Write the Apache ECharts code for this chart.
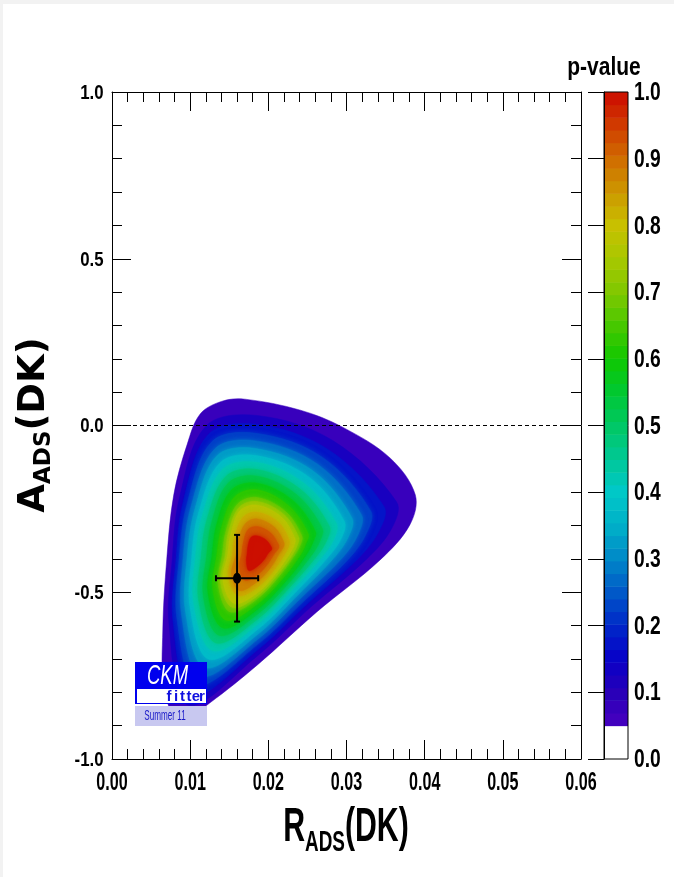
<!DOCTYPE html>
<html><head><meta charset="utf-8">
<script src="https://cdn.jsdelivr.net/npm/echarts/dist/echarts.min.js"></script>
<style>html,body{margin:0;padding:0;background:#fff;} #c{width:674px;height:877px;}</style>
</head><body><div id="c"></div>
<script>
// ---------------- data ----------------
const xRange = [0, 0.06];
const yRange = [-1, 1];
const xTicks = [0, 0.01, 0.02, 0.03, 0.04, 0.05, 0.06];
const yTicks = [-1, -0.5, 0, 0.5, 1];
const colorbarTicks = [0, 0.1, 0.2, 0.3, 0.4, 0.5, 0.6, 0.7, 0.8, 0.9, 1.0];

// p-value contour levels and contour lines, points as [R_ADS, A_ADS]
const pLevels = [0.05, 0.1, 0.15, 0.2, 0.25, 0.3, 0.35, 0.4, 0.45, 0.5, 0.55, 0.6, 0.65, 0.7, 0.75, 0.8, 0.85, 0.9, 0.95];
const contour005 = [[0.0170,0.079],[0.0241,0.046],[0.0295,-0.005],[0.0356,-0.098],[0.0388,-0.208],[0.0381,-0.298],[0.0343,-0.403],[0.0262,-0.559],[0.0186,-0.718],[0.0125,-0.832],[0.0087,-0.889],[0.0067,-0.793],[0.0065,-0.613],[0.0070,-0.403],[0.0079,-0.208],[0.0096,-0.058],[0.0113,0.035],[0.0141,0.073]];
const contour010 = [[0.0186,0.030],[0.0283,-0.046],[0.0364,-0.229],[0.0358,-0.308],[0.0326,-0.400],[0.0255,-0.543],[0.0186,-0.691],[0.0097,-0.838],[0.0073,-0.597],[0.0077,-0.402],[0.0086,-0.220],[0.0120,-0.002]];
const contour015 = [[0.0186,0.003],[0.0276,-0.071],[0.0348,-0.243],[0.0342,-0.315],[0.0315,-0.399],[0.0251,-0.533],[0.0186,-0.674],[0.0103,-0.808],[0.0078,-0.588],[0.0082,-0.401],[0.0091,-0.228],[0.0124,-0.025]];
const contour020 = [[0.0186,-0.024],[0.0269,-0.095],[0.0331,-0.256],[0.0326,-0.321],[0.0304,-0.397],[0.0247,-0.523],[0.0186,-0.657],[0.0109,-0.777],[0.0083,-0.578],[0.0086,-0.400],[0.0096,-0.236],[0.0128,-0.048]];
const contour025 = [[0.0186,-0.047],[0.0263,-0.116],[0.0319,-0.267],[0.0315,-0.326],[0.0295,-0.396],[0.0243,-0.514],[0.0186,-0.642],[0.0114,-0.752],[0.0089,-0.568],[0.0091,-0.399],[0.0101,-0.244],[0.0132,-0.069]];
const contour030 = [[0.0186,-0.070],[0.0257,-0.136],[0.0307,-0.277],[0.0303,-0.331],[0.0285,-0.394],[0.0239,-0.505],[0.0186,-0.627],[0.0119,-0.726],[0.0094,-0.557],[0.0096,-0.398],[0.0106,-0.251],[0.0135,-0.089]];
const contour035 = [[0.0186,-0.091],[0.0252,-0.155],[0.0297,-0.286],[0.0294,-0.335],[0.0277,-0.393],[0.0236,-0.497],[0.0186,-0.612],[0.0124,-0.701],[0.0100,-0.547],[0.0102,-0.397],[0.0111,-0.260],[0.0139,-0.110]];
const contour040 = [[0.0186,-0.111],[0.0246,-0.174],[0.0287,-0.294],[0.0284,-0.339],[0.0269,-0.392],[0.0232,-0.489],[0.0186,-0.596],[0.0129,-0.675],[0.0105,-0.536],[0.0107,-0.396],[0.0116,-0.268],[0.0142,-0.131]];
const contour045 = [[0.0186,-0.132],[0.0241,-0.191],[0.0278,-0.302],[0.0275,-0.343],[0.0262,-0.391],[0.0229,-0.481],[0.0186,-0.581],[0.0133,-0.652],[0.0111,-0.525],[0.0114,-0.395],[0.0122,-0.278],[0.0146,-0.152]];
const contour050 = [[0.0186,-0.152],[0.0236,-0.207],[0.0269,-0.309],[0.0266,-0.346],[0.0255,-0.390],[0.0226,-0.473],[0.0186,-0.566],[0.0137,-0.629],[0.0117,-0.513],[0.0121,-0.393],[0.0128,-0.287],[0.0149,-0.172]];
const contour055 = [[0.0186,-0.173],[0.0231,-0.224],[0.0260,-0.317],[0.0257,-0.350],[0.0248,-0.389],[0.0223,-0.465],[0.0186,-0.551],[0.0142,-0.607],[0.0123,-0.502],[0.0128,-0.392],[0.0134,-0.297],[0.0153,-0.193]];
const contour060 = [[0.0186,-0.193],[0.0226,-0.241],[0.0251,-0.325],[0.0248,-0.354],[0.0241,-0.388],[0.0219,-0.457],[0.0186,-0.535],[0.0146,-0.584],[0.0129,-0.490],[0.0134,-0.390],[0.0140,-0.306],[0.0157,-0.214]];
const contour065 = [[0.0186,-0.216],[0.0222,-0.258],[0.0243,-0.332],[0.0241,-0.357],[0.0234,-0.387],[0.0215,-0.448],[0.0186,-0.519],[0.0151,-0.559],[0.0136,-0.477],[0.0141,-0.389],[0.0146,-0.316],[0.0161,-0.235]];
const contour070 = [[0.0186,-0.228],[0.0220,-0.267],[0.0239,-0.336],[0.0237,-0.359],[0.0231,-0.387],[0.0213,-0.444],[0.0186,-0.511],[0.0154,-0.546],[0.0139,-0.471],[0.0145,-0.389],[0.0149,-0.321],[0.0163,-0.245]];
const contour075 = [[0.0186,-0.239],[0.0217,-0.275],[0.0234,-0.339],[0.0233,-0.360],[0.0227,-0.386],[0.0211,-0.439],[0.0186,-0.502],[0.0156,-0.533],[0.0142,-0.464],[0.0148,-0.388],[0.0152,-0.325],[0.0164,-0.255]];
const contour080 = [[0.0186,-0.260],[0.0213,-0.290],[0.0227,-0.345],[0.0226,-0.363],[0.0221,-0.385],[0.0208,-0.431],[0.0186,-0.485],[0.0161,-0.510],[0.0149,-0.451],[0.0154,-0.387],[0.0157,-0.334],[0.0168,-0.274]];
const contour085 = [[0.0186,-0.280],[0.0208,-0.305],[0.0220,-0.351],[0.0219,-0.366],[0.0214,-0.384],[0.0204,-0.423],[0.0186,-0.468],[0.0163,-0.495],[0.0153,-0.445],[0.0159,-0.385],[0.0162,-0.342],[0.0171,-0.293]];
const contour090 = [[0.0186,-0.303],[0.0203,-0.322],[0.0213,-0.357],[0.0213,-0.369],[0.0208,-0.383],[0.0200,-0.413],[0.0186,-0.448],[0.0170,-0.464],[0.0163,-0.424],[0.0166,-0.384],[0.0168,-0.351],[0.0174,-0.312]];
const contour095 = [[0.0186,-0.331],[0.0197,-0.343],[0.0204,-0.365],[0.0204,-0.373],[0.0200,-0.382],[0.0195,-0.401],[0.0186,-0.422],[0.0175,-0.435],[0.0172,-0.407],[0.0173,-0.383],[0.0174,-0.361],[0.0178,-0.335]];
const contours = [contour005, contour010, contour015, contour020, contour025, contour030, contour035, contour040, contour045, contour050,
                  contour055, contour060, contour065, contour070, contour075, contour080, contour085, contour090, contour095];

// best fit point with its errors
const bestFit = [0.0160, -0.458];
const bestFitXErr = [0.0133, 0.0187];
const bestFitYErr = [-0.588, -0.328];

// reference line A_ADS = 0
const zeroLine = [[0, 0], [0.06, 0]];

// colour palette (p-value -> colour)
const paletteStops = [[0.05,'#4800c0'],[0.10,'#2800b8'],[0.15,'#0800c8'],[0.20,'#0028c8'],[0.25,'#0058c8'],[0.30,'#0088c8'],[0.35,'#00b0c8'],[0.40,'#00c8c8'],[0.45,'#00c896'],[0.50,'#00c864'],[0.55,'#00c832'],[0.60,'#10c800'],[0.65,'#48c800'],[0.70,'#80c800'],[0.75,'#a8c800'],[0.80,'#c8c000'],[0.85,'#cc9800'],[0.90,'#d06c00'],[0.95,'#d03c00'],[1.00,'#cc0a00']];
const colorbarMin = 0.05, colorbarBins = 50;

// ---------------- helpers ----------------
function hex2rgb(h){return [parseInt(h.substr(1,2),16),parseInt(h.substr(3,2),16),parseInt(h.substr(5,2),16)];}
function palette(v){
  if (v <= paletteStops[0][0]) return paletteStops[0][1];
  for (let i=1;i<paletteStops.length;i++){
    if (v <= paletteStops[i][0]){
      const a=paletteStops[i-1], b=paletteStops[i];
      const t=(v-a[0])/(b[0]-a[0]);
      const ca=hex2rgb(a[1]), cb=hex2rgb(b[1]);
      return 'rgb('+ca.map((c,k)=>Math.round(c+(cb[k]-c)*t)).join(',')+')';
    }
  }
  return paletteStops[paletteStops.length-1][1];
}
const bandColors = pLevels.map((l,i)=>palette(i<pLevels.length-1 ? (l+pLevels[i+1])/2 : 0.995));
const cbData = [];
for (let i=0;i<colorbarBins;i++) cbData.push([colorbarMin+(1-colorbarMin)*i/colorbarBins, colorbarMin+(1-colorbarMin)*(i+1)/colorbarBins]);

const LF = "'Liberation Sans',Arial,sans-serif";

function mainAxisX(pos){
  return {type:'value', gridIndex:0, position:pos, min:xRange[0], max:xRange[1], interval:0.01,
    axisLine:{show:true,onZero:false,lineStyle:{color:'#000',width:1}},
    axisTick:{show:true,inside:true,length:19,lineStyle:{color:'#000',width:1}},
    minorTick:{show:true,splitNumber:5,length:10,lineStyle:{color:'#000',width:1}},
    splitLine:{show:false}, axisLabel:{show:false}};
}
function mainAxisY(pos){
  return {type:'value', gridIndex:0, position:pos, min:yRange[0], max:yRange[1], interval:0.5,
    axisLine:{show:true,onZero:false,lineStyle:{color:'#000',width:1}},
    axisTick:{show:true,inside:true,length:19,lineStyle:{color:'#000',width:1}},
    minorTick:{show:true,splitNumber:5,length:10,lineStyle:{color:'#000',width:1}},
    splitLine:{show:false}, axisLabel:{show:false}};
}

const chart = echarts.init(document.getElementById('c'), null, {renderer:'canvas'});
const option = {
  animation:false,
  backgroundColor:'#fff',
  grid:[
    {left:112, top:92, width:469, height:667, show:false},
    {left:604, top:92, width:24, height:667, show:true, borderColor:'#000', borderWidth:1, backgroundColor:'transparent', z:10}
  ],
  xAxis:[ mainAxisX('bottom'), mainAxisX('top'),
    {type:'value', gridIndex:1, min:0, max:1, show:false} ],
  yAxis:[ mainAxisY('left'), mainAxisY('right'),
    {type:'value', gridIndex:1, position:'right', min:0, max:1, interval:0.1, z:10,
     axisLine:{show:true,lineStyle:{color:'#000',width:1}},
     axisTick:{show:true,inside:true,length:16,lineStyle:{color:'#000',width:1}},
     splitLine:{show:false}, axisLabel:{show:false}} ],
  series:[
    {type:'custom', xAxisIndex:0, yAxisIndex:0, z:1,
     data: contours.map((c,i)=>[i]),
     renderItem:(params, api)=>{
       const i = params.dataIndex;
       const blur = i >= 3 ? 5 : 0;
       return {type:'polygon', shape:{points: contours[i].map(p=>api.coord(p)), smooth:0.35},
               style:{fill: bandColors[i], stroke: bandColors[i], lineWidth:0.5, shadowBlur:blur, shadowColor:bandColors[i]}};
     }},
    {type:'line', xAxisIndex:0, yAxisIndex:0, z:3, data:zeroLine, symbol:'none', silent:true,
     lineStyle:{color:'#000', width:1, type:[4,3]}},
    {type:'custom', xAxisIndex:0, yAxisIndex:0, z:4,
     data:[[bestFit[0], bestFit[1], bestFitXErr[0], bestFitXErr[1], bestFitYErr[0], bestFitYErr[1]]],
     renderItem:(params, api)=>{
       const c = api.coord([api.value(0), api.value(1)]);
       const xl = api.coord([api.value(2), api.value(1)]);
       const xh = api.coord([api.value(3), api.value(1)]);
       const yl = api.coord([api.value(0), api.value(4)]);
       const yh = api.coord([api.value(0), api.value(5)]);
       const st = {stroke:'#000', lineWidth:2};
       return {type:'group', children:[
         {type:'line', shape:{x1:xl[0],y1:xl[1],x2:xh[0],y2:xh[1]}, style:st},
         {type:'line', shape:{x1:yl[0],y1:yl[1],x2:yh[0],y2:yh[1]}, style:st},
         {type:'line', shape:{x1:xl[0],y1:xl[1]-3,x2:xl[0],y2:xl[1]+3}, style:st},
         {type:'line', shape:{x1:xh[0],y1:xh[1]-3,x2:xh[0],y2:xh[1]+3}, style:st},
         {type:'line', shape:{x1:yl[0]-3,y1:yl[1],x2:yl[0]+3,y2:yl[1]}, style:st},
         {type:'line', shape:{x1:yh[0]-3,y1:yh[1],x2:yh[0]+3,y2:yh[1]}, style:st},
         {type:'ellipse', shape:{cx:c[0], cy:c[1], rx:4, ry:5.5}, style:{fill:'#000'}}
       ]};
     }},
    {type:'custom', xAxisIndex:2, yAxisIndex:2, z:2,
     data: cbData,
     renderItem:(params, api)=>{
       const lo = api.value(0), hi = api.value(1);
       const p1 = api.coord([0, hi]), p2 = api.coord([1, lo]);
       return {type:'rect', shape:{x:p1[0], y:p1[1], width:p2[0]-p1[0], height:p2[1]-p1[1]+0.5},
               style:{fill:palette((lo+hi)/2), stroke:null}};
     }}
  ]
};
chart.setOption(option);

// ---------- texts (condensed bold, like the original) ----------
const g = [
  {type:'rect', x:0, y:0, shape:{width:674, height:4}, style:{fill:'#f2f2f2'}, z:100},
  {type:'rect', x:0, y:0, shape:{width:3, height:877}, style:{fill:'#f2f2f2'}, z:100},
  {type:'text', x:604, y:68, scaleX:0.84, z:100, style:{text:'p-value', font:"bold 25px "+LF, fill:'#000', textAlign:'center', textVerticalAlign:'middle'}},
  {type:'text', x:346, y:828, scaleX:0.63, z:100, style:{text:'{m|R}{s|ADS}{m|(DK)}', textAlign:'center', textVerticalAlign:'middle',
    rich:{m:{font:"bold 48px "+LF, fill:'#000', lineHeight:50}, s:{font:"bold 30px "+LF, fill:'#000', padding:[30,0,0,0], lineHeight:62}}}},
  {type:'text', x:34, y:425, rotation:Math.PI/2, z:100, style:{text:'{m|A}{s|ADS}{m|(DK)}', textAlign:'center', textVerticalAlign:'middle',
    rich:{m:{font:"bold 37px 'DejaVu Sans',sans-serif", fill:'#000', lineHeight:40}, s:{font:"bold 23px 'DejaVu Sans',sans-serif", fill:'#000', padding:[20,0,0,0], lineHeight:48}}}},
  // CKMfitter logo
  {type:'rect', x:135, y:662, z:50, shape:{width:72, height:42}, style:{fill:'#0000ee'}},
  {type:'text', x:167.5, y:676, scaleX:0.66, z:51, style:{text:'CKM', font:"italic 28px "+LF, fill:'#fff', textAlign:'center', textVerticalAlign:'middle'}},
  {type:'rect', x:137, y:689, z:51, shape:{width:69, height:14}, style:{fill:'#fff'}},
  {type:'rect', x:135, y:706, z:50, shape:{width:72, height:20}, style:{fill:'#c8c8f0'}},
  {type:'text', x:165, y:716, scaleX:0.58, z:51, style:{text:'Summer 11', font:"14px "+LF, fill:'#1a1ac8', textAlign:'center', textVerticalAlign:'middle'}}
];
const fitterLetters = ['f','i','t','t','e','r'];
const fitterX = [169, 176, 182.5, 189, 196, 202];
fitterLetters.forEach((ch,i)=>g.push({type:'text', x:fitterX[i], y:696.5, z:52, style:{text:ch, font:"bold 15px "+LF, fill:'#1010e0', textAlign:'center', textVerticalAlign:'middle'}}));

xTicks.forEach(v=>{
  const p = chart.convertToPixel({gridIndex:0}, [v, yRange[0]]);
  g.push({type:'text', x:p[0], y:p[1]+23.5, scaleX:0.62, z:100, style:{text:v.toFixed(2), font:"bold 26px "+LF, fill:'#000', textAlign:'center', textVerticalAlign:'middle'}});
});
yTicks.forEach(v=>{
  const p = chart.convertToPixel({gridIndex:0}, [xRange[0], v]);
  g.push({type:'text', x:p[0]-8.5, y:p[1]+1, scaleX:0.8, z:100, style:{text:v.toFixed(1), font:"bold 21px "+LF, fill:'#000', textAlign:'right', textVerticalAlign:'middle'}});
});
colorbarTicks.forEach(v=>{
  const p = chart.convertToPixel({gridIndex:1}, [1, v]);
  g.push({type:'text', x:p[0]+6, y:p[1]+1, scaleX:0.74, z:100, style:{text:v.toFixed(1), font:"bold 26px "+LF, fill:'#000', textAlign:'left', textVerticalAlign:'middle'}});
});
chart.setOption({graphic:g});
</script></body></html>
